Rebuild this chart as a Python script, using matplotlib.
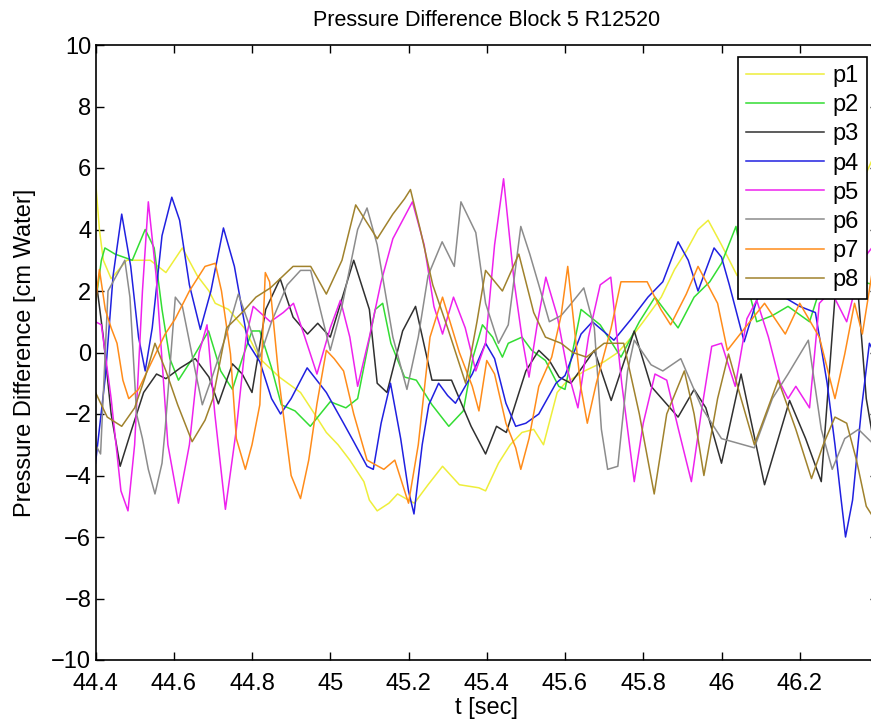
import matplotlib
matplotlib.use('Agg')
import matplotlib.pyplot as plt

plt.rcParams['font.family'] = ['Liberation Sans', 'DejaVu Sans']

# values (t in sec, pressure difference in cm water)
t_p1 = [44.400, 44.410, 44.420, 44.440, 44.480, 44.540, 44.580, 44.622, 44.660, 44.690,
        44.706, 44.740, 44.780, 44.820, 44.870, 44.924, 44.960, 44.990, 45.020, 45.050,
        45.086, 45.100, 45.120, 45.150, 45.172, 45.200, 45.215, 45.250, 45.287, 45.330,
        45.380, 45.397, 45.430, 45.460, 45.490, 45.520, 45.545, 45.580, 45.600, 45.650,
        45.700, 45.735, 45.770, 45.800, 45.846, 45.880, 45.910, 45.940, 45.966, 46.000,
        46.040, 46.120, 46.200, 46.280, 46.340, 46.390]
v_p1 = [5.6, 4.0, 3.0, 2.4, 3.0, 3.0, 2.6, 3.4, 2.5, 2.0,
        1.6, 1.4, 0.8, -0.2, -0.8, -1.3, -2.0, -2.6, -3.0, -3.5,
        -4.2, -4.8, -5.15, -4.9, -4.6, -4.8, -4.9, -4.3, -3.7, -4.3,
        -4.4, -4.5, -3.6, -3.0, -2.6, -2.5, -3.0, -1.3, -1.0, -0.6,
        -0.3, 0.0, 0.5, 1.0, 1.8, 2.7, 3.3, 4.0, 4.3, 3.5,
        2.5, 3.0, 2.5, 3.5, 5.0, 6.4]

t_p2 = [44.400, 44.415, 44.424, 44.450, 44.494, 44.527, 44.550, 44.570, 44.590, 44.612,
        44.650, 44.689, 44.720, 44.750, 44.775, 44.800, 44.820, 44.850, 44.875, 44.910,
        44.949, 45.000, 45.040, 45.070, 45.115, 45.134, 45.155, 45.190, 45.220, 45.260,
        45.303, 45.340, 45.365, 45.389, 45.415, 45.440, 45.455, 45.490, 45.515, 45.550,
        45.584, 45.600, 45.641, 45.690, 45.743, 45.790, 45.830, 45.889, 45.930, 45.970,
        46.000, 46.037, 46.060, 46.090, 46.130, 46.170, 46.225, 46.250, 46.300, 46.390]
v_p2 = [1.6, 3.0, 3.4, 3.2, 3.0, 4.0, 3.4, 1.4, -0.2, -0.9,
        -0.15, 0.7, -0.6, -1.2, -0.2, 0.7, 0.7, -0.5, -1.7, -1.9,
        -2.4, -1.6, -1.8, -1.5, 1.4, 1.6, 0.3, -0.8, -0.9, -1.7,
        -2.4, -1.9, -0.15, 0.9, 0.5, -0.15, 0.3, 0.5, 0.07, -0.26,
        -1.1, -1.2, 1.4, 0.9, -0.15, 1.0, 1.8, 0.8, 1.8, 2.3,
        2.9, 4.1, 2.5, 1.0, 1.2, 1.5, 1.0, 2.0, 2.5, 2.2]

t_p3 = [44.400, 44.420, 44.440, 44.463, 44.490, 44.523, 44.556, 44.580, 44.617, 44.655,
        44.690, 44.714, 44.750, 44.775, 44.800, 44.835, 44.872, 44.905, 44.942, 44.968,
        45.000, 45.060, 45.100, 45.120, 45.145, 45.185, 45.218, 45.260, 45.310, 45.360,
        45.397, 45.425, 45.450, 45.500, 45.533, 45.560, 45.585, 45.615, 45.675, 45.718,
        45.777, 45.820, 45.889, 45.930, 45.960, 46.000, 46.050, 46.110, 46.174, 46.215,
        46.255, 46.290, 46.320, 46.350, 46.370, 46.390]
v_p3 = [2.5, 0.5, -2.0, -3.7, -2.6, -1.3, -0.7, -0.85, -0.5, -0.2,
        -0.8, -1.67, -0.37, -0.7, -1.3, 1.4, 2.4, 1.15, 0.6, 0.95,
        0.5, 3.0, 1.4, -1.0, -1.3, 0.7, 1.5, -0.9, -0.9, -2.4,
        -3.3, -2.4, -2.6, -0.6, 0.07, -0.26, -0.8, -1.0, 0.07, -1.56,
        0.7, -1.1, -2.1, -1.2, -1.8, -3.6, -0.7, -4.3, -1.56, -2.8,
        -4.2, 1.8, 2.5, 1.8, -1.5, -3.0]

t_p4 = [44.400, 44.425, 44.445, 44.467, 44.490, 44.510, 44.527, 44.545, 44.570, 44.595,
        44.615, 44.640, 44.668, 44.695, 44.727, 44.755, 44.790, 44.820, 44.850, 44.873,
        44.900, 44.941, 44.990, 45.034, 45.060, 45.094, 45.110, 45.130, 45.154, 45.180,
        45.200, 45.214, 45.235, 45.252, 45.277, 45.300, 45.320, 45.363, 45.397, 45.420,
        45.449, 45.474, 45.500, 45.533, 45.577, 45.600, 45.641, 45.670, 45.725, 45.770,
        45.812, 45.850, 45.889, 45.915, 45.940, 45.981, 46.000, 46.020, 46.058, 46.090,
        46.120, 46.160, 46.200, 46.240, 46.270, 46.290, 46.305, 46.317, 46.335, 46.358,
        46.378, 46.390]
v_p4 = [-3.6, -0.8, 2.5, 4.5, 2.8, 0.5, -0.6, 0.8, 3.8, 5.05,
        4.3, 2.2, 0.75, 2.0, 4.05, 2.8, 0.3, -0.3, -1.5, -2.0,
        -1.5, -0.5, -1.3, -2.3, -2.9, -3.7, -3.8, -2.3, -1.0, -2.8,
        -4.5, -5.25, -3.0, -1.7, -1.0, -1.4, -1.65, -0.7, 0.3, -0.2,
        -1.65, -2.4, -2.3, -2.0, -1.0, -0.75, 0.6, 1.0, 0.4, 1.1,
        1.8, 2.3, 3.6, 3.0, 2.0, 3.4, 3.1, 2.2, 0.35, 1.7,
        2.3, 1.8, 1.5, 1.3, -1.0, -3.0, -4.7, -6.0, -4.8, -1.8,
        0.3, 0.0]

t_p5 = [44.400, 44.415, 44.440, 44.465, 44.483, 44.500, 44.520, 44.535, 44.555, 44.585,
        44.612, 44.640, 44.665, 44.685, 44.705, 44.732, 44.760, 44.785, 44.803, 44.847,
        44.880, 44.906, 44.935, 44.966, 45.000, 45.026, 45.050, 45.070, 45.100, 45.130,
        45.160, 45.185, 45.210, 45.240, 45.265, 45.287, 45.315, 45.345, 45.372, 45.397,
        45.420, 45.443, 45.470, 45.490, 45.508, 45.530, 45.551, 45.580, 45.605, 45.633,
        45.660, 45.690, 45.717, 45.745, 45.777, 45.800, 45.830, 45.860, 45.890, 45.923,
        45.950, 45.975, 46.000, 46.035, 46.065, 46.090, 46.120, 46.150, 46.170, 46.190,
        46.225, 46.250, 46.280, 46.320, 46.360, 46.390]
v_p5 = [1.0, 0.9, -1.5, -4.5, -5.15, -3.0, 2.0, 4.9, 2.5, -3.0,
        -4.9, -3.0, 0.0, 0.9, -2.0, -5.1, -2.5, 0.5, 1.5, 1.0,
        1.3, 1.6, 0.5, -0.7, 0.8, 1.7, 0.5, -1.1, 0.5, 2.3,
        3.7, 4.3, 4.9, 3.5, 1.5, 0.6, 1.8, 0.8, -0.6, 0.3,
        3.5, 5.65, 2.3, 0.5, -0.8, 1.0, 2.45, 1.2, -0.5, -1.8,
        0.5, 2.2, 2.45, -1.0, -4.2, -2.3, -0.7, -0.9, -2.5, -4.2,
        -1.8, 0.2, 0.3, -1.1, 1.1, 1.7, 0.5, -1.0, -1.5, -1.1,
        -1.8, 1.6, 2.0, 1.0, 3.0, 3.5]

t_p6 = [44.400, 44.413, 44.432, 44.475, 44.488, 44.505, 44.520, 44.535, 44.552, 44.570,
        44.578, 44.604, 44.622, 44.655, 44.673, 44.698, 44.740, 44.765, 44.790, 44.820,
        44.850, 44.890, 44.924, 44.950, 45.000, 45.030, 45.070, 45.094, 45.120, 45.160,
        45.196, 45.225, 45.250, 45.286, 45.317, 45.334, 45.372, 45.397, 45.430, 45.455,
        45.487, 45.510, 45.533, 45.560, 45.590, 45.610, 45.648, 45.675, 45.693, 45.709,
        45.735, 45.760, 45.777, 45.820, 45.850, 45.896, 45.950, 46.000, 46.084, 46.130,
        46.170, 46.222, 46.255, 46.283, 46.315, 46.350, 46.390]
v_p6 = [-3.0, -3.3, 2.0, 3.0, 1.8, -2.0, -2.8, -3.8, -4.6, -3.6,
        -2.5, 1.8, 1.5, -0.6, -1.7, -0.8, 0.8, 1.9, 1.0, -0.15,
        1.0, 2.2, 2.67, 2.67, 0.07, 1.5, 4.0, 4.7, 3.5, 0.5,
        -1.2, 0.5, 2.5, 3.6, 2.8, 4.9, 3.9, 1.6, 0.3, 0.9,
        4.1, 3.2, 2.2, 1.0, 1.2, 1.5, 2.1, 0.8, -2.5, -3.8,
        -3.7, -0.6, 0.4, -0.4, -0.6, -0.2, -1.8, -2.8, -3.1, -1.5,
        -0.7, 0.4, -2.5, -3.8, -2.8, -2.5, -3.0]

t_p7 = [44.400, 44.410, 44.425, 44.440, 44.455, 44.470, 44.485, 44.510, 44.540, 44.578,
        44.604, 44.640, 44.680, 44.706, 44.722, 44.745, 44.760, 44.783, 44.800, 44.820,
        44.834, 44.845, 44.870, 44.900, 44.924, 44.945, 44.966, 44.990, 45.010, 45.034,
        45.060, 45.094, 45.137, 45.165, 45.200, 45.225, 45.255, 45.287, 45.330, 45.363,
        45.380, 45.400, 45.420, 45.449, 45.474, 45.487, 45.508, 45.533, 45.566, 45.590,
        45.607, 45.640, 45.657, 45.680, 45.718, 45.743, 45.810, 45.845, 45.870, 45.910,
        45.940, 45.990, 46.015, 46.060, 46.110, 46.163, 46.200, 46.250, 46.290, 46.315,
        46.340, 46.360, 46.390]
v_p7 = [1.6, 2.7, 1.4, 0.8, 0.3, -0.9, -1.5, -1.2, -0.4, 0.6,
        1.1, 2.0, 2.8, 2.9, 2.0, -0.05, -2.8, -3.8, -3.0, -1.7,
        2.6, 2.3, -1.0, -4.0, -4.75, -3.5, -1.67, 0.07, -0.2, -0.6,
        -2.0, -3.5, -3.8, -3.5, -4.9, -3.0, 0.5, 1.8, 0.0, -1.1,
        -1.9, -0.26, -0.7, -2.3, -3.1, -3.8, -2.8, -1.1, -0.15, 1.2,
        2.8, -1.1, -2.3, -1.0, 0.8, 2.3, 2.3, 1.4, 0.9, 1.9,
        2.8, 1.6, 0.07, 0.8, 1.6, 0.6, 1.6, 0.5, -1.5, -0.05,
        1.6, 0.6, 3.0]

t_p8 = [44.400, 44.430, 44.467, 44.500, 44.527, 44.552, 44.580, 44.610, 44.647, 44.680,
        44.700, 44.735, 44.775, 44.810, 44.847, 44.905, 44.950, 44.990, 45.030, 45.065,
        45.090, 45.120, 45.160, 45.190, 45.205, 45.230, 45.262, 45.300, 45.346, 45.375,
        45.397, 45.440, 45.482, 45.520, 45.550, 45.590, 45.620, 45.655, 45.700, 45.750,
        45.790, 45.828, 45.860, 45.905, 45.930, 45.955, 45.990, 46.018, 46.050, 46.084,
        46.145, 46.190, 46.230, 46.260, 46.290, 46.320, 46.345, 46.370, 46.390]
v_p8 = [-1.3, -2.1, -2.4, -1.8, -0.8, 0.3, -0.6, -1.7, -2.9, -2.2,
        -1.5, 0.8, 1.3, 1.8, 2.1, 2.8, 2.8, 1.9, 3.0, 4.8,
        4.3, 3.7, 4.5, 5.0, 5.3, 4.0, 2.2, 0.8, -1.0, 1.0,
        2.67, 2.0, 3.2, 1.3, 0.5, 0.3, 0.0, -0.15, 0.3, 0.3,
        -2.0, -4.6, -2.0, -0.6, -2.0, -4.0, -1.5, -0.05, -1.5, -3.0,
        -0.9, -2.5, -4.1, -3.0, -2.1, -2.3, -3.5, -5.0, -5.4]

labels = ['p1', 'p2', 'p3', 'p4', 'p5', 'p6', 'p7', 'p8']
colors = ['#eeee3a', '#33dd33', '#303030', '#2020e0', '#ee22ee', '#8c8c8c', '#ff8c1a', '#a0822d']
series = [(t_p1, v_p1), (t_p2, v_p2), (t_p3, v_p3), (t_p4, v_p4),
          (t_p5, v_p5), (t_p6, v_p6), (t_p7, v_p7), (t_p8, v_p8)]

fig = plt.figure(figsize=(8.71, 7.27), dpi=100)
# axes run a little past the right edge, like the cropped original
ax = fig.add_axes([95.5 / 871, 67 / 727, (878 - 95.5) / 871, 615 / 727])

for (t, v), c, lab in zip(series, colors, labels):
    ax.plot(t, v, color=c, lw=1.1, label=lab, solid_joinstyle='round')

ax.set_xlim(44.4, 46.4)
ax.set_ylim(-10, 10)
ax.set_xticks([44.4, 44.6, 44.8, 45.0, 45.2, 45.4, 45.6, 45.8, 46.0, 46.2])
ax.set_xticklabels(['44.4', '44.6', '44.8', '45', '45.2', '45.4', '45.6', '45.8', '46', '46.2'])
ax.set_yticks(range(-10, 11, 2))
ax.tick_params(direction='in', length=6, width=1, top=True, right=True, labelsize=17)
ax.tick_params(axis='x', pad=9)
ax.tick_params(axis='y', pad=3)
for s in ax.spines.values():
    s.set_linewidth(1.2)

ax.set_title('Pressure Difference Block 5 R12520', fontsize=15.5, pad=14)
ax.set_xlabel('t [sec]', fontsize=17, labelpad=2)
ax.set_ylabel('Pressure Difference [cm Water]', fontsize=17, labelpad=11)

leg = ax.legend(loc='upper right', bbox_to_anchor=(867 / 871, 1 - 57 / 727),
                bbox_transform=fig.transFigure, fontsize=17, fancybox=False,
                framealpha=1, edgecolor='black', handlelength=3.3,
                handletextpad=0.35, labelspacing=0.3, borderpad=0.35,
                borderaxespad=0)
leg.get_frame().set_linewidth(1.2)

fig.savefig('out.png', dpi=100)
